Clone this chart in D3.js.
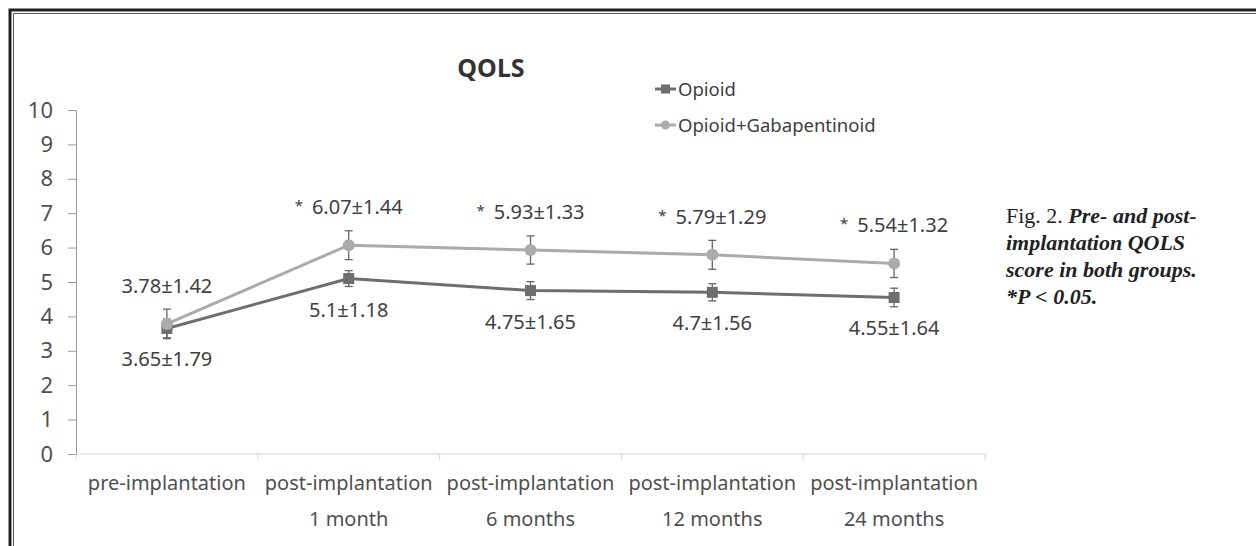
<!DOCTYPE html>
<html>
<head>
<meta charset="utf-8">
<script src="https://cdn.jsdelivr.net/npm/d3@7"></script>
<style>
  body { margin: 0; background: #fff; }
  svg text { font-family: "Noto Sans", sans-serif; }
</style>
</head>
<body>
<div id="chart"></div>
<script>
// data
const catLine1 = ["pre-implantation", "post-implantation", "post-implantation", "post-implantation", "post-implantation"];
const catLine2 = ["", "1 month", "6 months", "12 months", "24 months"];
const opioidMean = [3.65, 5.1, 4.75, 4.7, 4.55];
const opioidSD = [1.79, 1.18, 1.65, 1.56, 1.64];
const opioidErr = [0.27, 0.23, 0.26, 0.25, 0.27];
const gabaMean = [3.78, 6.07, 5.93, 5.79, 5.54];
const gabaSD = [1.42, 1.44, 1.33, 1.29, 1.32];
const gabaErr = [0.43, 0.42, 0.41, 0.42, 0.41];
const significant = [false, true, true, true, true];
const yTicks = [0, 1, 2, 3, 4, 5, 6, 7, 8, 9, 10];

const W = 1256, H = 546;
const svg = d3.select("#chart").append("svg")
    .attr("width", W).attr("height", H);

// page frame (only top and left edges visible)
svg.append("path").attr("d", "M10,546V10H1256").attr("fill", "none")
    .attr("stroke", "#222").attr("stroke-width", 3);
svg.append("path").attr("d", "M13.5,546V13.5H1256").attr("fill", "none")
    .attr("stroke", "#555").attr("stroke-width", 1);

const x = d3.scaleBand().domain(d3.range(5)).range([76, 985]);
const y = d3.scaleLinear().domain([0, 10]).range([454, 110]);
const cx = i => x(i) + x.bandwidth() / 2;

// y axis
const yAxis = svg.append("g").attr("transform", "translate(76,0)")
    .call(d3.axisLeft(y).tickValues(yTicks).tickSize(8).tickPadding(15));
yAxis.select(".domain").attr("stroke", "#9a9a9a");
yAxis.selectAll(".tick line").attr("stroke", "#9a9a9a");
yAxis.selectAll(".tick text").attr("fill", "#505050")
    .style("font-size", "22px");

// x axis
const xAxis = svg.append("g").attr("transform", `translate(0,${y(0)})`);
xAxis.append("line").attr("x1", 76).attr("x2", 985)
    .attr("stroke", "#d4d4d4").attr("stroke-width", 1.2);
xAxis.selectAll("line.tk").data(d3.range(6)).join("line").attr("class", "tk")
    .attr("x1", i => 76 + i * x.bandwidth()).attr("x2", i => 76 + i * x.bandwidth())
    .attr("y1", 0).attr("y2", 6).attr("stroke", "#d4d4d4");
xAxis.selectAll("text.l1").data(catLine1).join("text").attr("class", "l1")
    .attr("x", (d, i) => cx(i)).attr("y", 36)
    .attr("text-anchor", "middle").attr("fill", "#505050")
    .style("font-size", "20px").text(d => d);
xAxis.selectAll("text.l2").data(catLine2).join("text").attr("class", "l2")
    .attr("x", (d, i) => cx(i)).attr("y", 72)
    .attr("text-anchor", "middle").attr("fill", "#505050")
    .style("font-size", "20px").text(d => d);

const line = d3.line().x((d, i) => cx(i)).y(d => y(d));
const opioidColor = "#6e6e6e", gabaColor = "#ababab";

function drawSeries(mean, err, color, shape) {
    const g = svg.append("g");
    g.append("path").datum(mean).attr("d", line)
        .attr("fill", "none").attr("stroke", color).attr("stroke-width", 3);
    // error bars
    const eb = g.selectAll("g.eb").data(mean).join("g").attr("class", "eb");
    eb.append("line").attr("x1", (d, i) => cx(i)).attr("x2", (d, i) => cx(i))
        .attr("y1", (d, i) => y(d + err[i])).attr("y2", (d, i) => y(d - err[i]))
        .attr("stroke", "#666").attr("stroke-width", 1.3);
    eb.append("line").attr("x1", (d, i) => cx(i) - 4).attr("x2", (d, i) => cx(i) + 4)
        .attr("y1", (d, i) => y(d + err[i])).attr("y2", (d, i) => y(d + err[i]))
        .attr("stroke", "#666").attr("stroke-width", 1.3);
    eb.append("line").attr("x1", (d, i) => cx(i) - 4).attr("x2", (d, i) => cx(i) + 4)
        .attr("y1", (d, i) => y(d - err[i])).attr("y2", (d, i) => y(d - err[i]))
        .attr("stroke", "#666").attr("stroke-width", 1.3);
    // markers
    if (shape === "square") {
        g.selectAll("rect").data(mean).join("rect")
            .attr("x", (d, i) => cx(i) - 5.5).attr("y", d => y(d) - 5.5)
            .attr("width", 11).attr("height", 11).attr("fill", color);
    } else {
        g.selectAll("circle").data(mean).join("circle")
            .attr("cx", (d, i) => cx(i)).attr("cy", d => y(d))
            .attr("r", 6).attr("fill", color);
    }
}

drawSeries(opioidMean, opioidErr, opioidColor, "square");
drawSeries(gabaMean, gabaErr, gabaColor, "circle");

// value labels
const glab = svg.selectAll("text.glab").data(gabaMean).join("text").attr("class", "glab")
    .attr("x", (d, i) => cx(i)).attr("y", d => y(d) - 31)
    .attr("text-anchor", "middle").attr("fill", "#404040")
    .style("font-size", "20px");
glab.filter((d, i) => significant[i]).append("tspan")
    .style("font-size", "15px").attr("dy", -3).text("*");
glab.append("tspan")
    .attr("dy", (d, i) => significant[i] ? 3 : 0)
    .attr("dx", (d, i) => significant[i] ? 9 : 0)
    .text((d, i) => d + "±" + gabaSD[i]);
svg.selectAll("text.olab").data(opioidMean).join("text").attr("class", "olab")
    .attr("x", (d, i) => cx(i)).attr("y", d => y(d) + 38)
    .attr("text-anchor", "middle").attr("fill", "#404040")
    .style("font-size", "20px")
    .text((d, i) => d + "±" + opioidSD[i]);

// title
svg.append("text").attr("x", 491).attr("y", 77).attr("text-anchor", "middle")
    .attr("fill", "#333").style("font-size", "25px").style("font-weight", "bold")
    .text("QOLS");

// legend
const legend = [
    { name: "Opioid", color: opioidColor, shape: "square" },
    { name: "Opioid+Gabapentinoid", color: gabaColor, shape: "circle" }
];
legend.forEach((d, i) => {
    const ly = 89 + i * 36;
    svg.append("line").attr("x1", 655).attr("x2", 676).attr("y1", ly).attr("y2", ly)
        .attr("stroke", d.color).attr("stroke-width", 3);
    if (d.shape === "square") {
        svg.append("rect").attr("x", 661).attr("y", ly - 4.5).attr("width", 9).attr("height", 9)
            .attr("fill", d.color);
    } else {
        svg.append("circle").attr("cx", 665.5).attr("cy", ly).attr("r", 4.5).attr("fill", d.color);
    }
    svg.append("text").attr("x", 678).attr("y", ly + 7).attr("fill", "#404040")
        .style("font-size", "18.5px").text(d.name);
});

// caption
const cap = svg.append("text").attr("fill", "#222")
    .style("font-family", "'Liberation Serif', serif").style("font-size", "22px");
const capLines = [
    [["Fig. 2. ", "normal"], ["Pre- and post-", "italic"]],
    [["implantation QOLS", "italic"]],
    [["score in both groups.", "italic"]],
    [["*P < 0.05.", "italic"]]
];
capLines.forEach((ln, i) => {
    ln.forEach((seg, j) => {
        const t = cap.append("tspan").style("font-style", seg[1])
            .style("font-weight", seg[1] === "italic" ? "bold" : "normal").text(seg[0]);
        if (j === 0) t.attr("x", 1006).attr("y", 223 + i * 27);
    });
});
</script>
</body>
</html>
